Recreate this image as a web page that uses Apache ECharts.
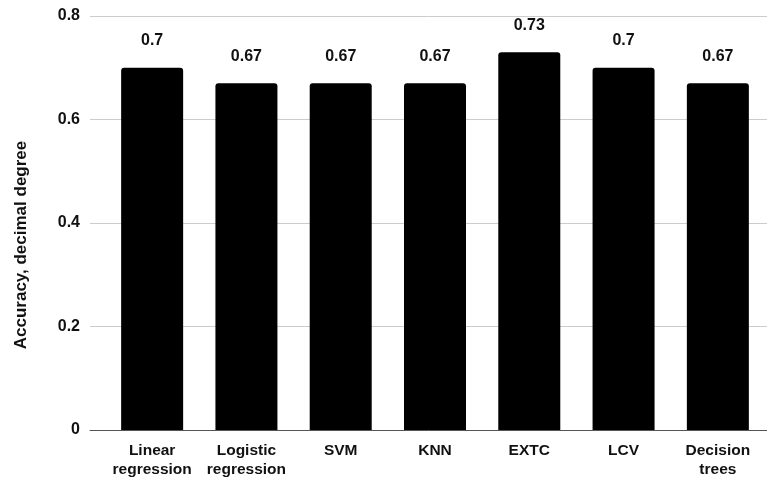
<!DOCTYPE html>
<html>
<head>
<meta charset="utf-8">
<script src="https://cdn.jsdelivr.net/npm/echarts@6/dist/echarts.min.js"></script>
<style>
  html, body { margin: 0; padding: 0; background: #fff; }
  #chart { width: 767px; height: 479px; }
</style>
</head>
<body>
<div id="chart"></div>
<script>
// Model names and their classification accuracy
const categories = ['Linear\nregression', 'Logistic\nregression', 'SVM', 'KNN', 'EXTC', 'LCV', 'Decision\ntrees'];
const accuracy = [0.7, 0.67, 0.67, 0.67, 0.73, 0.7, 0.67];
const yTicks = [0, 0.2, 0.4, 0.6, 0.8];

const FONT = 'Liberation Sans, Arial, sans-serif';
const yMin = yTicks[0];
const yMax = yTicks[yTicks.length - 1];
const yStep = yTicks[1] - yTicks[0];

const chart = echarts.init(document.getElementById('chart'));
chart.setOption({
  animation: false,
  backgroundColor: '#ffffff',
  grid: [
    // frame grid: gridlines, tick labels and baseline
    { left: 90, right: 0, top: 16, bottom: 49, containLabel: false },
    // bar grid
    { left: 105, right: 2, top: 16, bottom: 49, containLabel: false }
  ],
  xAxis: [
    {
      gridIndex: 0, type: 'category', data: [''],
      axisLine: { show: true, lineStyle: { color: '#555', width: 1 } },
      axisTick: { show: false }, axisLabel: { show: false }
    },
    {
      gridIndex: 1, type: 'category', data: categories,
      axisLine: { show: false }, axisTick: { show: false },
      axisLabel: {
        interval: 0, margin: 11, color: '#111',
        fontFamily: FONT, fontWeight: 'bold', fontSize: 15.5, lineHeight: 19
      }
    }
  ],
  yAxis: [
    {
      gridIndex: 0, type: 'value', min: yMin, max: yMax, interval: yStep,
      axisLine: { show: false }, axisTick: { show: false },
      splitLine: { lineStyle: { color: '#cccccc', width: 1 } },
      axisLabel: {
        margin: 10, color: '#111', fontFamily: FONT, fontWeight: 'bold', fontSize: 16,
        formatter: v => String(Math.round(v * 10) / 10)
      }
    },
    {
      gridIndex: 1, type: 'value', min: yMin, max: yMax, interval: yStep,
      show: false
    }
  ],
  graphic: [
    {
      type: 'text',
      rotation: Math.PI / 2,
      position: [21, 245],
      style: {
        text: 'Accuracy, decimal degree',
        fill: '#111', font: 'bold 17px ' + FONT,
        align: 'center', verticalAlign: 'middle'
      }
    }
  ],
  series: [
    {
      type: 'bar', xAxisIndex: 1, yAxisIndex: 1,
      data: accuracy,
      barWidth: 62,
      itemStyle: { color: '#000000', borderRadius: [3, 3, 0, 0] },
      label: {
        show: true, position: 'top', distance: 19,
        color: '#111', fontFamily: FONT, fontWeight: 'bold', fontSize: 16
      }
    }
  ]
});
</script>
</body>
</html>
